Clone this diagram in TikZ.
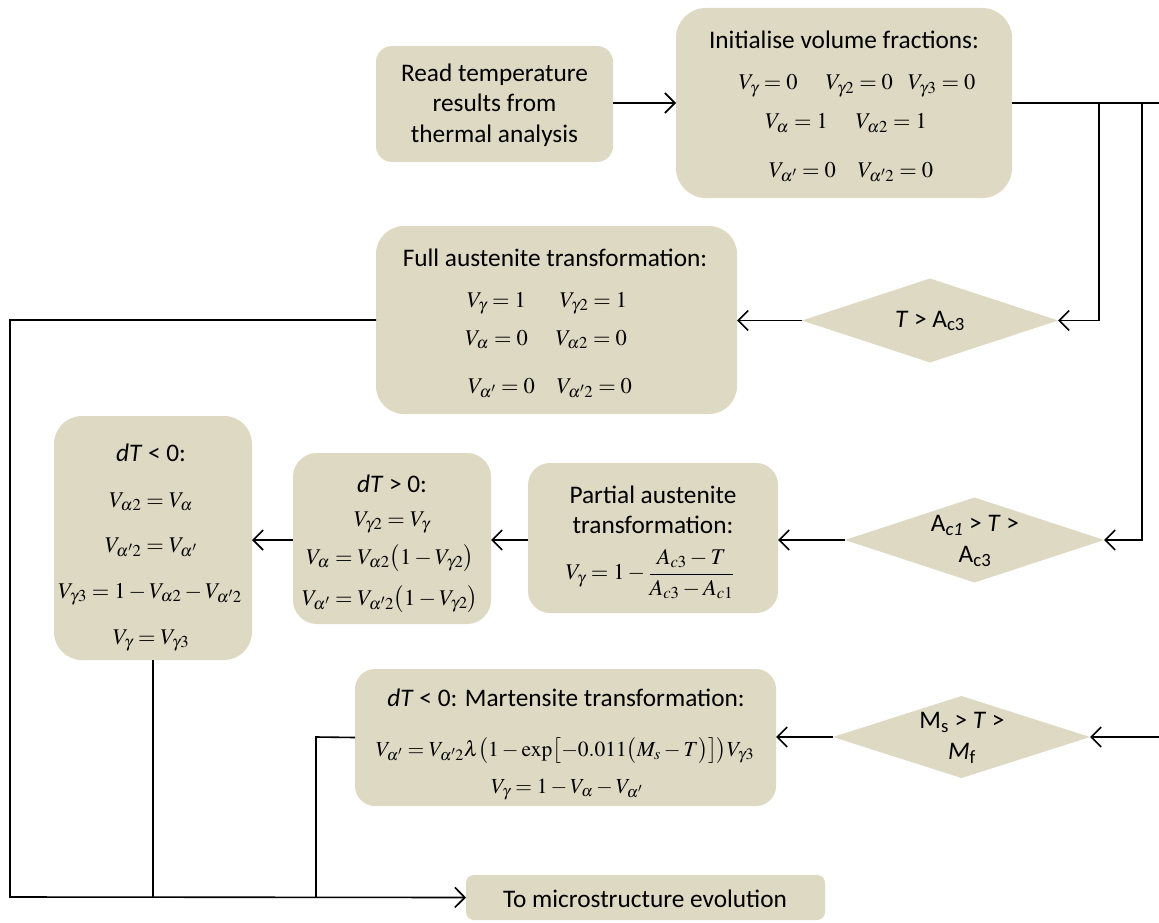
\documentclass[tikz,border=0pt]{standalone}
\usepackage{mathptmx}
\usepackage[no-math]{fontspec}
\setmainfont{Carlito}
\usetikzlibrary{shapes.geometric,arrows.meta}
\definecolor{boxfill}{RGB}{221,217,195}
\begin{document}
\begin{tikzpicture}[x=1pt,y=-1pt,
  box/.style={draw=none,fill=boxfill,inner sep=0pt,outer sep=0pt},
  dia/.style={diamond,draw=none,fill=boxfill,inner sep=0pt,outer sep=0pt},
  txt/.style={font=\fontsize{25.3}{30.5}\selectfont,inner sep=0pt,align=center},
  btxt/.style={font=\fontsize{25.3}{30.5}\selectfont,inner sep=0pt,anchor=base,text depth=2pt},
  eq/.style={font=\fontsize{22.5}{27}\selectfont,inner sep=0pt,anchor=base,text depth=4pt},
  seq/.style={font=\fontsize{21.5}{26}\selectfont,inner sep=0pt,anchor=base},
  conn/.style={line width=1.6pt,black},
  arr/.style={conn,-{Straight Barb[length=10pt,width=20pt,line width=1.6pt]}}
]
\fill[white] (0,0) rectangle (1159,923);
\useasboundingbox (0,0) rectangle (1159,923);

% boxes
\node[box,rounded corners=16pt,minimum width=237pt,minimum height=116pt] (read) at (494.5,104) {};
\node[box,rounded corners=30pt,minimum width=336pt,minimum height=190pt] (init) at (844,103) {};
\node[box,rounded corners=28pt,minimum width=361pt,minimum height=188pt] (full) at (556.5,320) {};
\node[box,rounded corners=22pt,minimum width=250pt,minimum height=150pt] (part) at (653,538) {};
\node[box,rounded corners=24pt,minimum width=198pt,minimum height=171pt] (dtp) at (392,538.5) {};
\node[box,rounded corners=28pt,minimum width=198pt,minimum height=244pt] (dtn) at (153,538) {};
\node[box,rounded corners=20pt,minimum width=421pt,minimum height=137pt] (mart) at (565.5,737.5) {};
\node[box,rounded corners=8pt,minimum width=359pt,minimum height=45pt] (micro) at (645.5,897.5) {};

% diamonds
\node[dia,minimum width=256pt,minimum height=84pt] (d1) at (930,320.5) {};
\node[dia,minimum width=259pt,minimum height=85pt] (d2) at (974.5,540) {};
\node[dia,minimum width=257pt,minimum height=82pt] (d3) at (961.5,737) {};

% texts
\node[txt] (readt) at (494.5,105) {Read temperature\\results from\\thermal analysis};

\node[btxt] (initt) at (844,49) {Initialise volume fractions:};
\node[eq] (init1) at (857,90) {$V_\gamma=0$\hspace{28pt}$V_{\gamma2}=0$\hspace{15pt}$V_{\gamma3}=0$};
\node[eq] (init2) at (846,129) {$V_\alpha=1$\hspace{28pt}$V_{\alpha2}=1$};
\node[eq] (init3) at (851,177) {$V_{\alpha'}=0$\hspace{22pt}$V_{\alpha'2}=0$};

\node[btxt] (fullt) at (555,266) {Full austenite transformation:};
\node[eq] (full1) at (547,307) {$V_\gamma=1$\hspace{34pt}$V_{\gamma2}=1$};
\node[eq] (full2) at (546,345) {$V_\alpha=0$\hspace{28pt}$V_{\alpha2}=0$};
\node[eq] (full3) at (550,393) {$V_{\alpha'}=0$\hspace{22pt}$V_{\alpha'2}=0$};

\node[btxt] (dtnt) at (151,461) {\textit{dT} < 0:};
\node[eq] (dtn1) at (151,507) {$V_{\alpha2}=V_\alpha$};
\node[eq] (dtn2) at (151,552) {$V_{\alpha'2}=V_{\alpha'}$};
\node[eq] (dtn3) at (150,598) {$V_{\gamma3}=1-V_{\alpha2}-V_{\alpha'2}$};
\node[eq] (dtn4) at (151,644) {$V_\gamma=V_{\gamma3}$};

\node[btxt,text depth=0pt] (dtpt) at (392,492) {\textit{dT} > 0:};
\node[eq,text height=13pt,text depth=3pt] (dtp1) at (392,526) {$V_{\gamma2}=V_\gamma$};
\node[eq] (dtp2) at (390,564) {$V_\alpha=V_{\alpha2}\bigl(1-V_{\gamma2}\bigr)$};
\node[eq] (dtp3) at (390,605) {$V_{\alpha'}=V_{\alpha'2}\bigl(1-V_{\gamma2}\bigr)$};

\node[btxt] (partt1) at (653,503) {Partial austenite};
\node[btxt] (partt2) at (653,533) {transformation:};
\node[txt,font=\fontsize{22.5}{27}\selectfont] (part1) at (650,574) {$\displaystyle V_\gamma=1-\frac{A_{c3}-T}{A_{c3}-A_{c1}}$};

\node[btxt] (martt) at (566,706) {\textit{dT} < 0: Martensite transformation:};
\node[seq] (mart1) at (565,756) {$V_{\alpha'}=V_{\alpha'2}\lambda\bigl(1-\exp\bigl[-0.011\bigl(M_s-T\bigr)\bigr]\bigr)V_{\gamma3}$};
\node[seq] (mart2) at (567,793) {$V_\gamma=1-V_\alpha-V_{\alpha'}$};

\node[txt] (microt) at (645,899) {To microstructure evolution};

\node[txt] (d1t) at (930,321) {\textit{T} > A\textsubscript{c3}};
\node[txt] (d2t) at (975,541) {A\textsubscript{\textit{c1}} > \textit{T} >\\A\textsubscript{c3}};
\node[txt] (d3t) at (962,738) {M\textsubscript{s} > \textit{T} >\\\textit{M}\textsubscript{f}};

% connectors
\coordinate (rt) at (1159,103);
\coordinate (b1) at (1099,103);
\coordinate (b2) at (1142,103);
\coordinate (r3) at (1159,737);
\coordinate (lb) at (10,897);
\coordinate (mb) at (316,737);

\draw[arr] (read.east |- init.west) -- (init.west);
\draw[conn] (init.east) -- (rt);
\draw[arr] (b1) |- (d1.east);
\draw[arr] (b2) |- (d2.east);
\draw[arr] (r3) -- (d3.east);
\draw[arr] (d1.west) -- (d1.west -| full.east);
\draw[arr] (d2.west) -- (d2.west -| part.east);
\draw[arr] (part.west |- d2.west) -- (d2.west -| dtp.east);
\draw[arr] (dtp.west |- d2.west) -- (d2.west -| dtn.east);
\draw[arr] (d3.west) -- (d3.west -| mart.east);
\draw[arr] (full.west) -- (full.west -| lb) -- (lb) -- (micro.west);
\draw[conn] (dtn.south) -- (dtn.south |- lb);
\draw[conn] (mart.west) -- (mb) -- (mb |- lb);
\end{tikzpicture}
\end{document}
